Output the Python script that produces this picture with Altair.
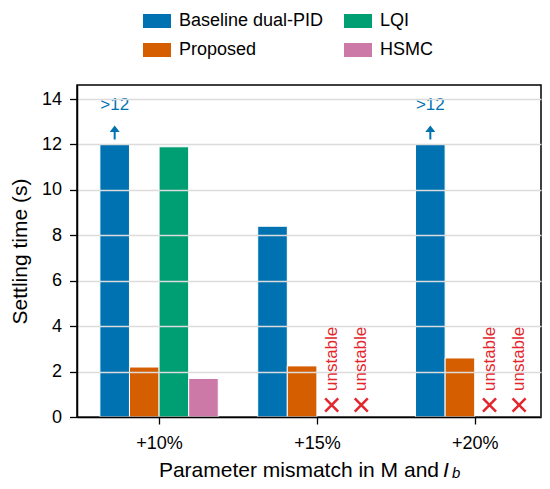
import altair as alt
import pandas as pd

# ---- data ----
groups = ["+10%", "+15%", "+20%"]
controllers = ["Baseline dual-PID", "Proposed", "LQI", "HSMC"]
colors = ["#0072B2", "#D55E00", "#009E73", "#CC79A7"]
baseline = [12.0, 8.4, 12.0]
proposed = [2.2, 2.25, 2.6]
lqi = [11.9, None, None]
hsmc = [1.7, None, None]
baseline_cap = [">12", None, ">12"]
unstable_label = "unstable"
xtitle_main = "Parameter mismatch in M and"
xtitle_var = "I"
xtitle_sub = "b"
ytitle = "Settling time (s)"

BLUE = "#0072B2"
RED = "#E3262D"
FONT = "Liberation Sans"
BW = 0.1875

series = [baseline, proposed, lqi, hsmc]
rows = []
for gi, g in enumerate(groups):
    for k, c in enumerate(controllers):
        v = series[k][gi]
        rows.append({
            "group": g, "gi": gi, "k": k, "controller": c, "value": v,
            "cap": baseline_cap[gi] if k == 0 else None,
        })
df = pd.DataFrame(rows)

xscale = alt.Scale(domain=[-0.52, 2.42], nice=False, zero=False)
yscale = alt.Scale(domain=[0, 14.62], nice=False)

label_expr = "[" + ",".join("'%s'" % g for g in groups) + "][datum.value]"

xaxis = alt.Axis(
    values=[0, 1, 2], labelExpr=label_expr, title=None, grid=False,
    tickSize=7, tickWidth=1.3, tickColor="black", labelFontSize=18,
    labelColor="black", labelPadding=10, domainColor="black",
    domainWidth=1.5, zindex=1, labelFont=FONT)
yaxis = alt.Axis(
    values=list(range(0, 15, 2)), title=ytitle, grid=True,
    gridColor="#dcdcdc", gridWidth=1.5, tickSize=7.5, tickWidth=1.3,
    tickColor="black", labelFontSize=18, labelColor="black",
    labelPadding=8, titleFontSize=21, titleFontWeight="normal",
    titleColor="black", titlePadding=11, domainColor="black",
    domainWidth=1.5, zindex=1, labelFont=FONT, titleFont=FONT)

base = alt.Chart(df).transform_calculate(
    x0=f"datum.gi + (datum.k - 2) * {BW}",
    x1=f"datum.gi + (datum.k - 1) * {BW}",
    xc=f"datum.gi + (datum.k - 1.5) * {BW}",
    zero="0",
)

bars = base.transform_filter("isValid(datum.value)").mark_bar(
    stroke="white", strokeWidth=1
).encode(
    x=alt.X("x0:Q", scale=xscale, axis=xaxis),
    x2="x1:Q",
    y=alt.Y("value:Q", scale=yscale, axis=yaxis),
    y2="zero:Q",
    color=alt.Color("controller:N", scale=alt.Scale(domain=controllers, range=colors),
                    legend=alt.Legend(
                        title=None, orient="none", legendX=68, legendY=-76,
                        columns=2, columnPadding=20, rowPadding=8,
                        symbolType="M-1.2,-0.6L1.2,-0.6L1.2,0.6L-1.2,0.6Z",
                        symbolSize=544, symbolStrokeWidth=0, symbolOpacity=1,
                        labelFontSize=18, labelFont=FONT, labelColor="black",
                        labelOffset=10, padding=0)),
)

unstable_x = base.transform_filter("!isValid(datum.value)").mark_point(
    shape="M-1,-1L1,1M-1,1L1,-1", size=170, filled=False, stroke=RED,
    strokeWidth=2.5, opacity=1, yOffset=-12
).encode(
    x=alt.X("xc:Q", scale=xscale, axis=xaxis),
    y=alt.Y("zero:Q", scale=yscale, axis=yaxis),
)

unstable_t = base.transform_filter("!isValid(datum.value)").mark_text(
    angle=270, align="left", baseline="middle", fontSize=17, font=FONT,
    color=RED, yOffset=-26
).encode(
    x=alt.X("xc:Q", scale=xscale, axis=xaxis),
    y=alt.Y("zero:Q", scale=yscale, axis=yaxis),
    text=alt.value(unstable_label),
)

capped = base.transform_filter("datum.cap != null")

cap_text = capped.mark_text(
    baseline="middle", align="center", fontSize=17, font=FONT, color=BLUE, yOffset=-39
).encode(
    x=alt.X("xc:Q", scale=xscale, axis=xaxis),
    y=alt.Y("value:Q", scale=yscale, axis=yaxis),
    text="cap:N",
)

cap_shaft = capped.mark_rule(color=BLUE, strokeWidth=2, yOffset=-5, y2Offset=-13).encode(
    x=alt.X("xc:Q", scale=xscale, axis=xaxis),
    y=alt.Y("value:Q", scale=yscale, axis=yaxis),
    y2="value:Q",
)

cap_head = capped.mark_point(
    shape="M0,-0.7L1,0.6L-1,0.6Z", size=100, filled=True, color=BLUE,
    opacity=1, yOffset=-15.5, strokeWidth=0
).encode(
    x=alt.X("xc:Q", scale=xscale, axis=xaxis),
    y=alt.Y("value:Q", scale=yscale, axis=yaxis),
)

t_main = alt.Chart(pd.DataFrame({"t": [xtitle_main]})).mark_text(
    align="right", baseline="alphabetic", fontSize=21, font=FONT, color="black"
).encode(x=alt.value(362), y=alt.value(392), text="t:N")

t_var = alt.Chart(pd.DataFrame({"t": [xtitle_var]})).mark_text(
    align="left", baseline="alphabetic", fontSize=21, font=FONT, fontStyle="italic", color="black"
).encode(x=alt.value(366), y=alt.value(392), text="t:N")

t_sub = alt.Chart(pd.DataFrame({"t": [xtitle_sub]})).mark_text(
    align="left", baseline="alphabetic", fontSize=15, font=FONT, fontStyle="italic", color="black"
).encode(x=alt.value(375), y=alt.value(393), text="t:N")

chart = alt.layer(
    bars, unstable_x, unstable_t, cap_text, cap_shaft, cap_head, t_main, t_var, t_sub
).properties(
    width=464, height=332,
    autosize=alt.AutoSizeParams(type="none"),
    padding={"left": 69, "top": 77, "right": 1, "bottom": 64},
).configure(font=FONT).configure_view(
    stroke="black", strokeWidth=1.5
)

chart.save("out.html", embed_options={"renderer": "svg", "actions": False})
